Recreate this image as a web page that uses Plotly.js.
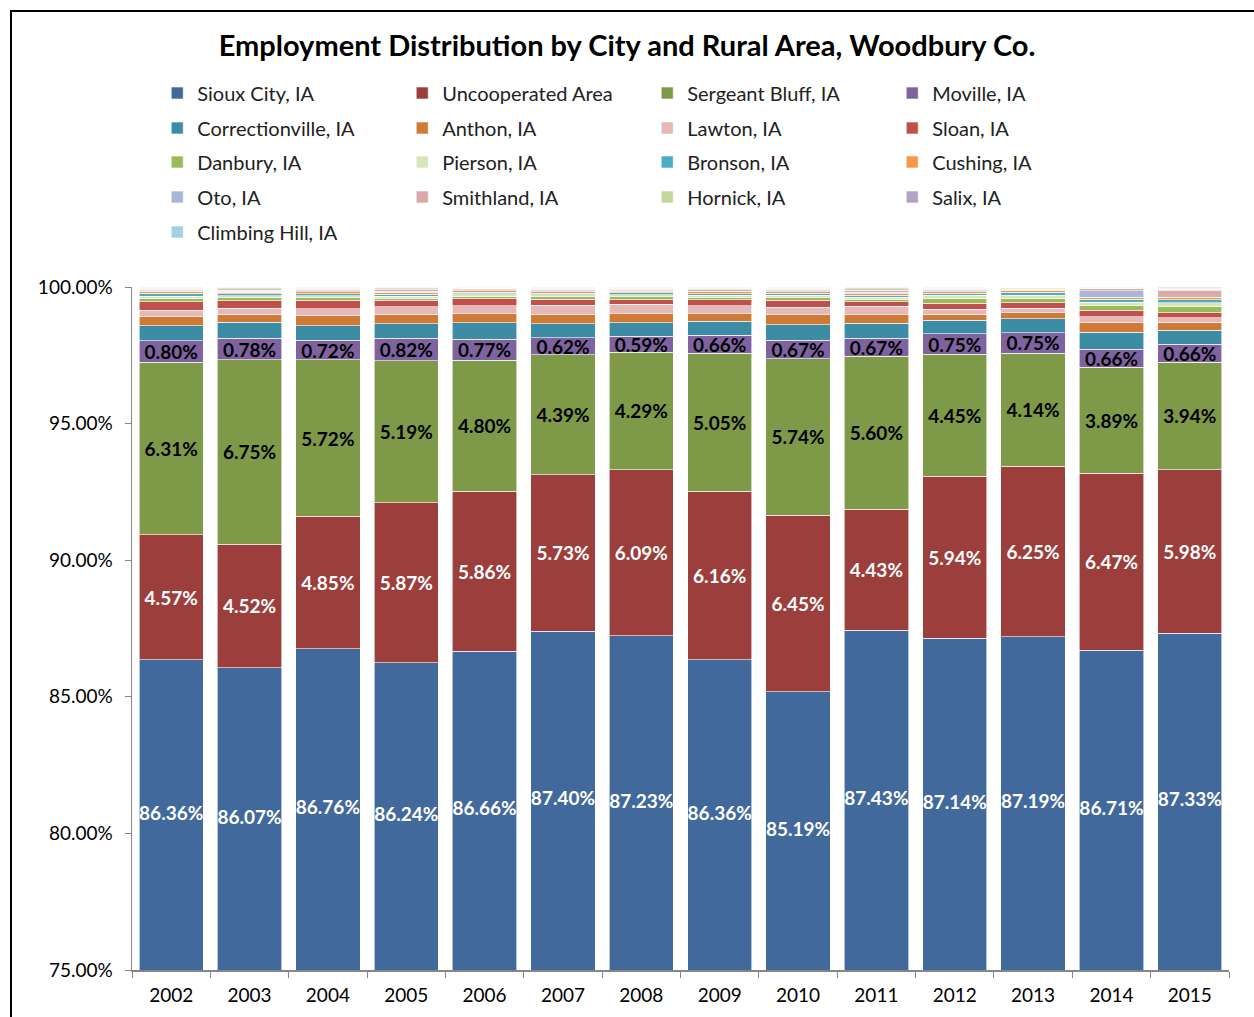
<!DOCTYPE html>
<html>
<head>
<meta charset="utf-8">
<script src="https://cdn.plot.ly/plotly-3.0.1.min.js"></script>
<style>
html,body{margin:0;padding:0;background:#fff;}
#chart{width:1254px;height:1017px;position:absolute;left:0;top:0;}
#frame{position:absolute;left:10px;top:10px;width:1260px;height:1020px;border-left:2px solid #000;border-top:2px solid #000;pointer-events:none;}
</style>
</head>
<body>
<div id="chart"></div>
<div id="frame"></div>
<script>
const years = ['2002','2003','2004','2005','2006','2007','2008','2009','2010','2011','2012','2013','2014','2015'];

const siouxCity      = [86.36,86.07,86.76,86.24,86.66,87.40,87.23,86.36,85.19,87.43,87.14,87.19,86.71,87.33];
const uncooperated   = [4.57,4.52,4.85,5.87,5.86,5.73,6.09,6.16,6.45,4.43,5.94,6.25,6.47,5.98];
const sergeantBluff  = [6.31,6.75,5.72,5.19,4.80,4.39,4.29,5.05,5.74,5.60,4.45,4.14,3.89,3.94];
const moville        = [0.80,0.78,0.72,0.82,0.77,0.62,0.59,0.66,0.67,0.67,0.75,0.75,0.66,0.66];
const correctionville= [0.54,0.59,0.54,0.54,0.60,0.51,0.49,0.51,0.56,0.54,0.51,0.51,0.62,0.51];
const anthon         = [0.34,0.29,0.35,0.34,0.34,0.35,0.34,0.29,0.37,0.31,0.20,0.21,0.35,0.29];
const lawton         = [0.23,0.23,0.27,0.27,0.28,0.34,0.34,0.28,0.28,0.31,0.20,0.18,0.21,0.17];
const sloan          = [0.31,0.27,0.30,0.24,0.26,0.21,0.17,0.22,0.26,0.17,0.22,0.20,0.24,0.18];
const danbury        = [0.11,0.10,0.09,0.08,0.10,0.09,0.10,0.09,0.10,0.09,0.17,0.16,0.17,0.24];
const pierson        = [0.10,0.08,0.08,0.08,0.08,0.07,0.07,0.08,0.08,0.07,0.12,0.10,0.12,0.13];
const bronson        = [0.10,0.07,0.08,0.07,0.06,0.07,0.08,0.06,0.07,0.08,0.07,0.11,0.11,0.10];
const cushing        = [0.07,0.06,0.07,0.07,0.06,0.05,0.05,0.06,0.05,0.06,0.06,0.08,0.08,0.07];
const oto            = [0.03,0.04,0.03,0.04,0.03,0.03,0.03,0.03,0.04,0.05,0.04,0.03,0.24,0.02];
const smithland      = [0.05,0.04,0.05,0.05,0.03,0.05,0.04,0.05,0.05,0.07,0.05,0.03,0.07,0.24];
const hornick        = [0.04,0.04,0.04,0.04,0.03,0.04,0.04,0.05,0.04,0.05,0.04,0.03,0.02,0.05];
const salix          = [0.02,0.05,0.03,0.04,0.03,0.03,0.03,0.03,0.03,0.04,0.02,0.02,0.02,0.05];
const climbingHill   = [0.02,0.02,0.02,0.02,0.01,0.02,0.02,0.02,0.02,0.03,0.02,0.01,0.02,0.04];

const seriesNames = ['Sioux City, IA','Uncooperated Area','Sergeant Bluff, IA','Moville, IA',
  'Correctionville, IA','Anthon, IA','Lawton, IA','Sloan, IA','Danbury, IA','Pierson, IA',
  'Bronson, IA','Cushing, IA','Oto, IA','Smithland, IA','Hornick, IA','Salix, IA','Climbing Hill, IA'];
const seriesValues = [siouxCity,uncooperated,sergeantBluff,moville,correctionville,anthon,lawton,sloan,
  danbury,pierson,bronson,cushing,oto,smithland,hornick,salix,climbingHill];
const colors = ['#42699c','#9c3e3b','#7e9a48','#7f63a1','#3b8ca4','#cf7b37','#e6b8b7','#c0504d',
  '#9bbb59','#d8e4bc','#4bacc6','#f79646','#a8b7d7','#dba9a8','#c4d79b','#b3a2c7','#a5d0df'];
const labelColors = ['#ffffff','#ffffff','#000000','#000000'];
const yMin = 75, yMax = 100;

const legendIds = ['legend','legend2','legend3','legend4','legend5'];
const labelFont = (c)=>({family:'Lato, sans-serif', size:19, color:c, weight:'bold'});

const traces = seriesNames.map((name,i)=>{
  const t = {
    type:'bar', name:name, x:years, y:seriesValues[i],
    legend: legendIds[Math.floor(i/4)],
    marker:{color:colors[i], line:{color:'#ffffff', width:0.6}},
    hoverinfo:'name+y'
  };
  if(i >= 1 && i < 4){
    t.text = seriesValues[i].map(v=>v.toFixed(2)+'%');
    t.textposition = 'inside';
    t.insidetextanchor = 'middle';
    t.textangle = 0;
    t.constraintext = 'none';
    t.insidetextfont = labelFont(labelColors[i]);
  } else {
    t.textposition = 'none';
  }
  return t;
});

// Sioux City labels: centred on the visible part of the bar
traces.push({
  type:'scatter', mode:'text', x:years,
  y:siouxCity.map(v=>(yMin+v)/2),
  text:siouxCity.map(v=>v.toFixed(2)+'%'),
  textposition:'middle center',
  textfont:labelFont('#ffffff'),
  showlegend:false, hoverinfo:'skip', cliponaxis:false
});

const rowCentersPx = [93,128,162,197,232];
const plotTop = 287, plotBottom = 970;
const legendBase = {orientation:'h', x:0.023, xanchor:'left', yanchor:'middle',
  entrywidth:200, entrywidthmode:'pixels', traceorder:'normal', bgcolor:'rgba(0,0,0,0)',
  font:{family:'Lato, sans-serif', size:20, color:'#222'}};

const layout = {
  width:1254, height:1017,
  barmode:'stack', bargap:0.18,
  paper_bgcolor:'#ffffff', plot_bgcolor:'#ffffff',
  margin:{l:132, r:25, t:287, b:47},
  title:{text:'<b>Employment Distribution by City and Rural Area, Woodbury Co.</b>',
    font:{family:'Lato, sans-serif', size:29, color:'#000'}, x:0.5, xanchor:'center', y:0.955, yanchor:'middle'},
  showlegend:true,
  xaxis:{type:'category', range:[-0.5, years.length-0.5], autorange:false, showline:true, linecolor:'#868686', linewidth:1.5,
    ticks:'outside', tickson:'boundaries', ticklen:6, tickcolor:'#868686', ticklabelstandoff:8,
    tickfont:{family:'Lato, sans-serif', size:19, color:'#000'}, showgrid:false, fixedrange:true, automargin:false},
  yaxis:{range:[yMin,yMax], autorange:false, tickvals:[75,80,85,90,95,100], ticktext:['75.00%','80.00%','85.00%','90.00%','95.00%','100.00%'],
    showline:true, linecolor:'#868686', linewidth:1.5, ticks:'outside', ticklen:6, tickcolor:'#868686', ticklabelstandoff:8,
    tickfont:{family:'Lato, sans-serif', size:19, color:'#000'}, showgrid:false, zeroline:false, fixedrange:true, automargin:false}
};
legendIds.forEach((id,r)=>{
  layout[id] = Object.assign({}, legendBase, {y:(plotBottom-rowCentersPx[r])/(plotBottom-plotTop)});
});

Plotly.newPlot('chart', traces, layout, {displayModeBar:false, staticPlot:true});
</script>
</body>
</html>
